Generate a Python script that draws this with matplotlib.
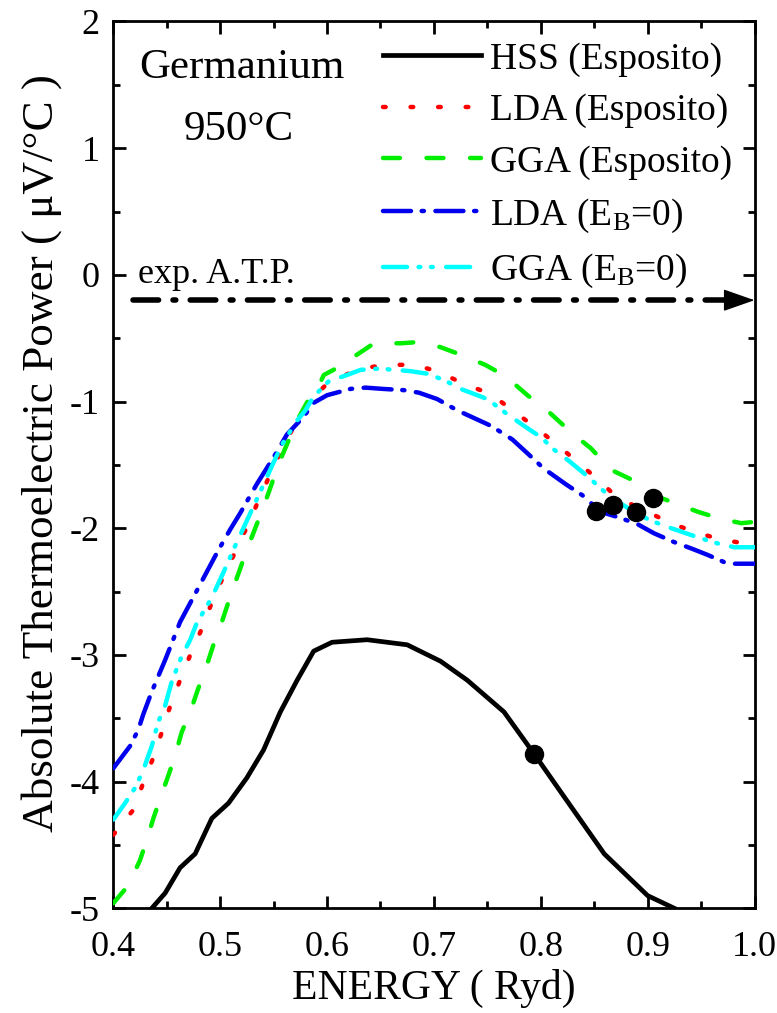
import matplotlib
matplotlib.use("Agg")
import matplotlib.pyplot as plt
from matplotlib.ticker import MultipleLocator

plt.rcParams['font.family'] = ['Liberation Serif', 'DejaVu Serif']
plt.rcParams['mathtext.fontset'] = 'custom'
plt.rcParams['mathtext.rm'] = 'Liberation Serif'
plt.rcParams['mathtext.it'] = 'Liberation Serif:italic'
plt.rcParams['axes.unicode_minus'] = False

# ---------------- data ----------------
hss_e = [0.436, 0.4485, 0.4625, 0.4766, 0.4922, 0.5078, 0.525, 0.5406, 0.5563, 0.572,
         0.5875, 0.6047, 0.6375, 0.675, 0.7063, 0.7313, 0.7656, 0.7937, 0.8219, 0.8594,
         0.900, 0.925]
hss_v = [-5.0, -4.88, -4.68, -4.57, -4.29, -4.17, -3.97, -3.75, -3.45, -3.20,
         -2.97, -2.90, -2.88, -2.92, -3.05, -3.20, -3.45, -3.78, -4.12, -4.57,
         -4.90, -5.0]

lda_e = [0.400, 0.419, 0.428, 0.437, 0.445, 0.453, 0.462, 0.472, 0.483, 0.492, 0.503,
         0.514, 0.525, 0.536, 0.547, 0.558, 0.572, 0.588, 0.600, 0.609, 0.631, 0.656,
         0.681, 0.703, 0.728, 0.753, 0.777, 0.802, 0.825, 0.850, 0.872, 0.897, 0.922,
         0.944, 0.969, 0.991, 1.000]
lda_v = [-4.42, -4.22, -4.01, -3.82, -3.62, -3.41, -3.21, -3.00, -2.79, -2.59, -2.38,
         -2.19, -1.99, -1.78, -1.57, -1.37, -1.15, -0.96, -0.86, -0.82, -0.74, -0.71,
         -0.71, -0.76, -0.86, -0.94, -1.09, -1.25, -1.41, -1.59, -1.76, -1.86, -1.96,
         -2.03, -2.09, -2.12, -2.12]

gga_e = [0.400, 0.414, 0.425, 0.431, 0.4375, 0.444, 0.4516, 0.458, 0.464, 0.472, 0.4797,
         0.486, 0.4937, 0.500, 0.5094, 0.525, 0.5406, 0.5563, 0.572, 0.5875, 0.592, 0.597,
         0.606, 0.628, 0.644, 0.669, 0.686, 0.706, 0.725, 0.748, 0.767, 0.7875, 0.806,
         0.828, 0.847, 0.866, 0.886, 0.909, 0.925, 0.947, 0.966, 0.9875, 1.000]
gga_v = [-4.96, -4.82, -4.62, -4.47, -4.29, -4.13, -3.95, -3.79, -3.61, -3.45, -3.26,
         -3.12, -2.92, -2.78, -2.54, -2.17, -1.83, -1.46, -1.15, -0.91, -0.88, -0.79,
         -0.75, -0.63, -0.54, -0.54, -0.53, -0.57, -0.63, -0.71, -0.80, -0.95, -1.07,
         -1.24, -1.37, -1.54, -1.62, -1.75, -1.80, -1.87, -1.92, -1.96, -1.95]

lda0_e = [0.400, 0.4156, 0.4234, 0.428, 0.436, 0.442, 0.4485, 0.456, 0.4625, 0.472, 0.4985,
          0.5094, 0.5188, 0.5344, 0.550, 0.5625, 0.578, 0.5875, 0.600, 0.622, 0.636, 0.652,
          0.672, 0.686, 0.703, 0.722, 0.7375, 0.753, 0.7625, 0.7735, 0.789, 0.803, 0.823,
          0.839, 0.856, 0.875, 0.891, 0.906, 0.925, 0.941, 0.956, 0.975, 1.000]
lda0_v = [-3.895, -3.72, -3.59, -3.47, -3.29, -3.17, -3.04, -2.88, -2.74, -2.59, -2.17,
          -2.01, -1.88, -1.65, -1.44, -1.26, -1.12, -1.01, -0.95, -0.90, -0.89, -0.90,
          -0.91, -0.93, -0.98, -1.07, -1.13, -1.19, -1.24, -1.30, -1.42, -1.53, -1.65,
          -1.74, -1.87, -1.92, -1.97, -2.04, -2.11, -2.16, -2.21, -2.28, -2.28]

gga0_e = [0.400, 0.411, 0.4203, 0.428, 0.436, 0.442, 0.4485, 0.4547, 0.464, 0.472, 0.478,
          0.492, 0.503, 0.514, 0.525, 0.536, 0.550, 0.5578, 0.572, 0.5797, 0.5875, 0.6016,
          0.6188, 0.6313, 0.6484, 0.664, 0.678, 0.6938, 0.7094, 0.725, 0.7469, 0.7547,
          0.7703, 0.7875, 0.800, 0.8125, 0.8266, 0.8438, 0.8594, 0.872, 0.889, 0.9031,
          0.9188, 0.936, 0.950, 0.9656, 0.981, 1.000]
gga0_v = [-4.30, -4.17, -4.05, -3.91, -3.72, -3.53, -3.40, -3.21, -3.01, -2.88, -2.75,
          -2.55, -2.35, -2.14, -1.94, -1.74, -1.48, -1.34, -1.15, -1.07, -0.96, -0.84,
          -0.79, -0.75, -0.74, -0.75, -0.76, -0.78, -0.83, -0.90, -0.97, -1.01,
          -1.11, -1.21, -1.28, -1.38, -1.47, -1.59, -1.71, -1.79, -1.88, -1.94,
          -1.99, -2.04, -2.08, -2.12, -2.15, -2.15]

dots_e = [0.7937, 0.8516, 0.8672, 0.889, 0.9047]
dots_v = [-3.78, -1.86, -1.82, -1.87, -1.76]

exp_atp = -0.20
exp_range = [0.418, 0.99]

labels = ['HSS (Esposito)', 'LDA (Esposito)', 'GGA (Esposito)',
          'LDA (E$_\\mathregular{B}$=0)', 'GGA (E$_\\mathregular{B}$=0)']
xticks = [0.4, 0.5, 0.6, 0.7, 0.8, 0.9, 1.0]
xticklabels = ['0.4', '0.5', '0.6', '0.7', '0.8', '0.9', '1.0']
yticks = [-5, -4, -3, -2, -1, 0, 1, 2]

# ---------------- figure ----------------
fig = plt.figure(figsize=(7.77, 10.13), dpi=100)
ax = fig.add_axes([113.3 / 777, 1 - 908.3 / 1013, (754.5 - 113.3) / 777, (908.3 - 21.5) / 1013])

lw = 3.2
ax.plot(hss_e, hss_v, color='black', lw=3.4, solid_joinstyle='round', label=labels[0], zorder=3)
ax.plot(lda_e, lda_v, color='#ff0000', lw=lw, ls=(0, (0.6, 5.6)), dash_capstyle='round',
        label=labels[1], zorder=3)
ax.plot(gga_e, gga_v, color='#00ee00', lw=lw, ls=(0, (3.8, 6.0)), dash_capstyle='round',
        label=labels[2], zorder=3)
ax.plot(lda0_e, lda0_v, color='#0000ee', lw=lw, ls=(0, (6.3, 2.4, 0.5, 2.6)),
        dash_capstyle='round', label=labels[3], zorder=3)
ax.plot(gga0_e, gga0_v, color='#00ffff', lw=lw, ls=(0, (5.4, 2.6, 0.4, 2.4, 0.4, 3.0)),
        dash_capstyle='round', label=labels[4], zorder=3)
ax.plot(dots_e, dots_v, 'o', color='black', ms=13, zorder=5)

# experimental ATP line with arrow
ax.plot(exp_range, [exp_atp, exp_atp], color='black', lw=4, ls=(0, (4.6, 2.6, 0.5, 2.6)),
        dash_capstyle='round', zorder=4)
ax.annotate('', xy=(1.0, exp_atp), xytext=(0.985, exp_atp),
            arrowprops=dict(arrowstyle='-|>,head_length=1.0,head_width=0.35', color='black',
                            lw=1, mutation_scale=20, shrinkA=0, shrinkB=0), zorder=6)

ax.text(0.4232, 0.0, 'exp. A.T.P.', fontsize=26, ha='left', va='center')
ax.text(0.5207, 1.632, 'Germanium', fontsize=31, ha='center', va='center')
ax.text(0.517, 1.143, '950°C', fontsize=31, ha='center', va='center')

ax.set_xlim(0.4, 1.0)
ax.set_ylim(-5, 2)
ax.set_xticks(xticks)
ax.set_xticklabels(xticklabels)
ax.set_yticks(yticks)
ax.xaxis.set_minor_locator(MultipleLocator(0.05))
ax.yaxis.set_minor_locator(MultipleLocator(0.5))
ax.tick_params(which='both', direction='in', top=True, right=True, width=2, labelsize=26)
ax.tick_params(which='major', length=9)
ax.tick_params(axis='x', which='major', pad=16)
ax.tick_params(axis='y', which='major', pad=10)
ax.tick_params(which='minor', length=5)
for s in ax.spines.values():
    s.set_linewidth(2)

ax.set_xlabel('ENERGY ( Ryd)', fontsize=30, labelpad=4)
ax.set_ylabel('Absolute Thermoelectric Power ( μV/°C )', fontsize=32.5, labelpad=4)
ax.yaxis.set_label_coords(-0.08, 0.513)

leg = ax.legend(loc='upper left', bbox_to_anchor=(383 / 777, 1 - 42 / 1013),
                bbox_transform=fig.transFigure, frameon=False, fontsize=27,
                handlelength=2.6, handletextpad=0.25, labelspacing=0.45,
                borderpad=0, borderaxespad=0)

fig.savefig('out.png', dpi=100)
